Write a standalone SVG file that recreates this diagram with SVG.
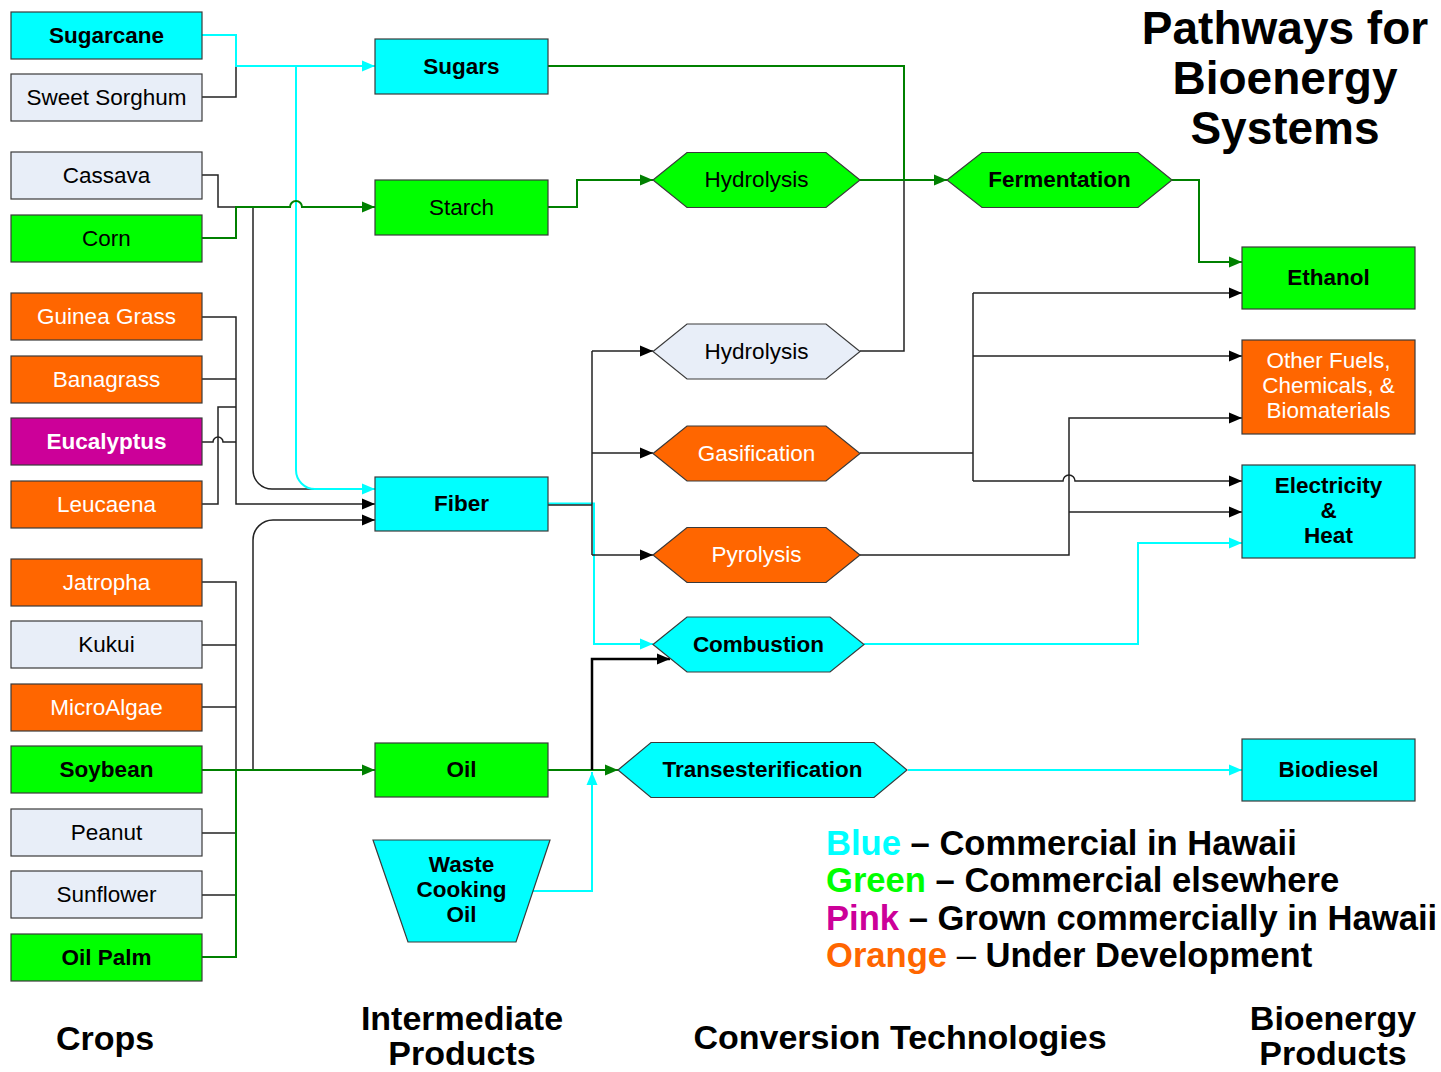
<svg xmlns="http://www.w3.org/2000/svg" width="1441" height="1072" viewBox="0 0 1441 1072">
<style>
text{font-family:"Liberation Sans",Arial,sans-serif;font-size:22.5px;text-anchor:middle}
.b{font-weight:bold}
.w{fill:#fff}
.box{stroke:#3a3a3a;stroke-width:1.2}
.cy{fill:#00FFFF}.gr{fill:#00FF00}.lt{fill:#E8EEF8}.or{fill:#FF6600}.pk{fill:#CC0099}
.k{fill:none;stroke:#222;stroke-width:1.5}
.g{fill:none;stroke:#008000;stroke-width:2}
.c{fill:none;stroke:#00FFFF;stroke-width:2}
.big{font-size:34px;font-weight:bold}
.leg{font-size:34.6px;font-weight:bold}
.title{font-size:46px;font-weight:bold}
</style>
<defs>
<marker id="ak" markerUnits="userSpaceOnUse" markerWidth="14" markerHeight="12" refX="13" refY="6" orient="auto"><path d="M0,0.5 L13,6 L0,11.5 z" fill="#000"/></marker>
<marker id="ag" markerUnits="userSpaceOnUse" markerWidth="14" markerHeight="12" refX="13" refY="6" orient="auto"><path d="M0,0.5 L13,6 L0,11.5 z" fill="#008000"/></marker>
<marker id="ac" markerUnits="userSpaceOnUse" markerWidth="14" markerHeight="12" refX="13" refY="6" orient="auto"><path d="M0,0.5 L13,6 L0,11.5 z" fill="#00FFFF"/></marker>
</defs>

<g id="connectors">
<path class="k" d="M202,97 H236 V66"/>
<path class="c" d="M202,35 H236 V66 H375" marker-end="url(#ac)"/>
<path class="k" d="M202,175 H218 V207 H236"/>
<path class="k" d="M253,207 V470 A19,19 0 0 0 272,489 H332"/>
<path class="c" d="M296,66 V470 A19,19 0 0 0 315,489 H375" marker-end="url(#ac)"/>
<path class="g" d="M202,238 H236 V207 H290 A6,6 0 0 1 302,207 H375" marker-end="url(#ag)"/>
<path class="k" d="M202,317 H236 V504 H375" marker-end="url(#ak)"/>
<path class="k" d="M202,379 H236"/>
<path class="k" d="M202,442 H213 A5,5 0 0 1 223,442 H236"/>
<path class="k" d="M202,504 H218 V407 H236"/>
<path class="k" d="M202,582 H236 V770"/>
<path class="k" d="M202,645 H236"/>
<path class="k" d="M202,707 H236"/>
<path class="k" d="M202,833 H236"/>
<path class="k" d="M202,895 H236"/>
<path class="k" d="M253,770 V540 A20,20 0 0 1 273,520 H375" marker-end="url(#ak)"/>
<path class="g" d="M202,957 H236 V770"/>
<path class="g" d="M202,770 H375" marker-end="url(#ag)"/>
<path class="k" d="M860,351 H904 V180"/>
<path class="g" d="M548,66 H904 V180"/>
<path class="g" d="M860,180 H947" marker-end="url(#ag)"/>
<path class="g" d="M548,207 H577 V180 H653" marker-end="url(#ag)"/>
<path class="c" d="M548,503.5 H594 V644 H653" marker-end="url(#ac)"/>
<path class="k" d="M548,505 H592"/>
<path class="k" d="M592,351 V555"/>
<path class="k" d="M592,351 H653" marker-end="url(#ak)"/>
<path class="k" d="M592,453 H653" marker-end="url(#ak)"/>
<path class="k" d="M592,555 H653" marker-end="url(#ak)"/>
<path class="g" d="M548,770 H618" marker-end="url(#ag)"/>
<path d="M592,770 V659 H670" fill="none" stroke="#000" stroke-width="2.5" marker-end="url(#ak)"/>
<path class="c" d="M533,891 H592 V772" marker-end="url(#ac)"/>
<path class="g" d="M1172,180 H1199 V262 H1242" marker-end="url(#ag)"/>
<path class="k" d="M860,453 H973"/>
<path class="k" d="M973,293 V481"/>
<path class="k" d="M973,293 H1242" marker-end="url(#ak)"/>
<path class="k" d="M973,356 H1242" marker-end="url(#ak)"/>
<path class="k" d="M973,481 H1063 A6,6 0 0 1 1075,481 H1242" marker-end="url(#ak)"/>
<path class="k" d="M860,555 H1069 V418 H1242" marker-end="url(#ak)"/>
<path class="k" d="M1069,512 H1242" marker-end="url(#ak)"/>
<path class="c" d="M864,644 H1138 V543 H1242" marker-end="url(#ac)"/>
<path class="c" d="M908,770 H1242" marker-end="url(#ac)"/>
</g>

<g id="sugarcane"><rect class="box cy" x="11" y="12" width="191" height="47"/><text class="b" x="106.5" y="42.5">Sugarcane</text></g>
<g id="sweet-sorghum"><rect class="box lt" x="11" y="74" width="191" height="47"/><text x="106.5" y="104.5">Sweet Sorghum</text></g>
<g id="cassava"><rect class="box lt" x="11" y="152" width="191" height="47"/><text x="106.5" y="182.5">Cassava</text></g>
<g id="corn"><rect class="box gr" x="11" y="215" width="191" height="47"/><text x="106.5" y="245.5">Corn</text></g>
<g id="guinea-grass"><rect class="box or" x="11" y="293" width="191" height="47"/><text class="w" x="106.5" y="323.5">Guinea Grass</text></g>
<g id="banagrass"><rect class="box or" x="11" y="356" width="191" height="47"/><text class="w" x="106.5" y="386.5">Banagrass</text></g>
<g id="eucalyptus"><rect class="box pk" x="11" y="418" width="191" height="47"/><text class="b w" x="106.5" y="448.5">Eucalyptus</text></g>
<g id="leucaena"><rect class="box or" x="11" y="481" width="191" height="47"/><text class="w" x="106.5" y="511.5">Leucaena</text></g>
<g id="jatropha"><rect class="box or" x="11" y="559" width="191" height="47"/><text class="w" x="106.5" y="589.5">Jatropha</text></g>
<g id="kukui"><rect class="box lt" x="11" y="621" width="191" height="47"/><text x="106.5" y="651.5">Kukui</text></g>
<g id="microalgae"><rect class="box or" x="11" y="684" width="191" height="47"/><text class="w" x="106.5" y="714.5">MicroAlgae</text></g>
<g id="soybean"><rect class="box gr" x="11" y="746" width="191" height="47"/><text class="b" x="106.5" y="776.5">Soybean</text></g>
<g id="peanut"><rect class="box lt" x="11" y="809" width="191" height="47"/><text x="106.5" y="839.5">Peanut</text></g>
<g id="sunflower"><rect class="box lt" x="11" y="871" width="191" height="47"/><text x="106.5" y="901.5">Sunflower</text></g>
<g id="oil-palm"><rect class="box gr" x="11" y="934" width="191" height="47"/><text class="b" x="106.5" y="964.5">Oil Palm</text></g>

<g id="sugars"><rect class="box cy" x="375" y="39" width="173" height="55"/><text class="b" x="461.5" y="73.5">Sugars</text></g>
<g id="starch"><rect class="box gr" x="375" y="180" width="173" height="55"/><text x="461.5" y="214.5">Starch</text></g>
<g id="fiber"><rect class="box cy" x="375" y="477" width="173" height="54"/><text class="b" x="461.5" y="511">Fiber</text></g>
<g id="oil"><rect class="box gr" x="375" y="743" width="173" height="54"/><text class="b" x="461.5" y="777">Oil</text></g>
<g id="waste-cooking-oil"><polygon class="box cy" points="373,840 550,840 516,942 408,942"/><text class="b" x="461.5" y="872">Waste</text><text class="b" x="461.5" y="897">Cooking</text><text class="b" x="461.5" y="922">Oil</text></g>

<g id="hydrolysis-starch"><polygon class="box gr" points="653,180 687,152.5 826,152.5 860,180 826,207.5 687,207.5"/><text x="756.5" y="187">Hydrolysis</text></g>
<g id="hydrolysis-fiber"><polygon class="box lt" points="653,351.5 687,324 826,324 860,351.5 826,379 687,379"/><text x="756.5" y="358.5">Hydrolysis</text></g>
<g id="gasification"><polygon class="box or" points="653,453.5 687,426 826,426 860,453.5 826,481 687,481"/><text class="w" x="756.5" y="460.5">Gasification</text></g>
<g id="pyrolysis"><polygon class="box or" points="653,555 687,527.5 826,527.5 860,555 826,582.5 687,582.5"/><text class="w" x="756.5" y="562">Pyrolysis</text></g>
<g id="combustion"><polygon class="box cy" points="653,644.5 687,617 830,617 864,644.5 830,672 687,672"/><text class="b" x="758.5" y="651.5">Combustion</text></g>
<g id="transesterification"><polygon class="box cy" points="618,770 651,742.5 874,742.5 907,770 874,797.5 651,797.5"/><text class="b" x="762.5" y="777">Transesterification</text></g>
<g id="fermentation"><polygon class="box gr" points="947,180 982,152.5 1138,152.5 1172,180 1138,207.5 982,207.5"/><text class="b" x="1059.5" y="187">Fermentation</text></g>

<g id="ethanol"><rect class="box gr" x="1242" y="247" width="173" height="62"/><text class="b" x="1328.5" y="285">Ethanol</text></g>
<g id="other-fuels"><rect class="box or" x="1242" y="340" width="173" height="94"/><text class="w" x="1328.5" y="368">Other Fuels,</text><text class="w" x="1328.5" y="393">Chemicals, &amp;</text><text class="w" x="1328.5" y="418">Biomaterials</text></g>
<g id="electricity-heat"><rect class="box cy" x="1242" y="465" width="173" height="93"/><text class="b" x="1328.5" y="493">Electricity</text><text class="b" x="1328.5" y="518">&amp;</text><text class="b" x="1328.5" y="543">Heat</text></g>
<g id="biodiesel"><rect class="box cy" x="1242" y="739" width="173" height="62"/><text class="b" x="1328.5" y="777">Biodiesel</text></g>

<g id="title">
<text class="title" x="1285" y="44">Pathways for</text>
<text class="title" x="1285" y="94">Bioenergy</text>
<text class="title" x="1285" y="144">Systems</text>
</g>

<g id="legend">
<text class="leg" x="826" y="855" style="text-anchor:start"><tspan fill="#00FFFF">Blue</tspan> – Commercial in Hawaii</text>
<text class="leg" x="826" y="892" style="text-anchor:start"><tspan fill="#00FF00">Green</tspan> – Commercial elsewhere</text>
<text class="leg" x="826" y="930" style="text-anchor:start"><tspan fill="#CC0099">Pink</tspan> – Grown commercially in Hawaii</text>
<text class="leg" x="826" y="967" style="text-anchor:start"><tspan fill="#FF6600">Orange</tspan><tspan font-weight="normal"> – </tspan>Under Development</text>
</g>

<g id="labels">
<text class="big" x="105" y="1050">Crops</text>
<text class="big" x="462" y="1030">Intermediate</text>
<text class="big" x="462" y="1065">Products</text>
<text class="big" x="900" y="1049">Conversion Technologies</text>
<text class="big" x="1333" y="1030">Bioenergy</text>
<text class="big" x="1333" y="1065">Products</text>
</g>
</svg>
